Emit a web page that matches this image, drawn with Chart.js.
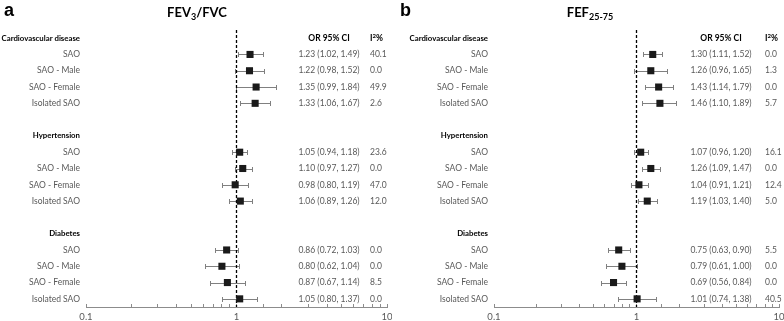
<!DOCTYPE html>
<html>
<head>
<meta charset="utf-8">
<script src="https://cdn.jsdelivr.net/npm/chart.js@4.4.0/dist/chart.umd.min.js"></script>
<style>
  body { margin: 0; background: #fff; }
  .panel { position: absolute; top: 0; width: 392px; height: 321px; }
  #panelA { left: 0; }
  #panelB { left: 392px; }
</style>
</head>
<body>
<div class="panel" id="panelA"><canvas id="chartA" width="392" height="321"></canvas></div>
<div class="panel" id="panelB"><canvas id="chartB" width="392" height="321"></canvas></div>
<script>
// rows of the forest plot, top to bottom
const rowLabels = [
  'Cardiovascular disease', 'SAO', 'SAO - Male', 'SAO - Female', 'Isolated SAO', '',
  'Hypertension', 'SAO', 'SAO - Male', 'SAO - Female', 'Isolated SAO', '',
  'Diabetes', 'SAO', 'SAO - Male', 'SAO - Female', 'Isolated SAO'
];
const headerRows = [0, 6, 12];
const dataRows = [1, 2, 3, 4, 7, 8, 9, 10, 13, 14, 15, 16];
const xTickLabels = [0.1, 1, 10];

// panel a - FEV3/FVC
const fevOR = [1.23, 1.22, 1.35, 1.33, 1.05, 1.10, 0.98, 1.06, 0.86, 0.80, 0.87, 1.05];
const fevLo = [1.02, 0.98, 0.99, 1.06, 0.94, 0.97, 0.80, 0.89, 0.72, 0.62, 0.67, 0.80];
const fevHi = [1.49, 1.52, 1.84, 1.67, 1.18, 1.27, 1.19, 1.26, 1.03, 1.04, 1.14, 1.37];
const fevI2 = ['40.1', '0.0', '49.9', '2.6', '23.6', '0.0', '47.0', '12.0', '0.0', '0.0', '8.5', '0.0'];

// panel b - FEF25-75
const fefOR = [1.30, 1.26, 1.43, 1.46, 1.07, 1.26, 1.04, 1.19, 0.75, 0.79, 0.69, 1.01];
const fefLo = [1.11, 0.96, 1.14, 1.10, 0.96, 1.09, 0.91, 1.03, 0.63, 0.61, 0.56, 0.74];
const fefHi = [1.52, 1.65, 1.79, 1.89, 1.20, 1.47, 1.21, 1.40, 0.90, 1.00, 0.84, 1.38];
const fefI2 = ['0.0', '1.3', '0.0', '5.7', '16.1', '0.0', '12.4', '5.0', '5.5', '0.0', '0.0', '40.5'];

const FONT = 'Lato, "Open Sans", sans-serif';
const GREY_TEXT = '#595959';
const WHISKER = '#808080';

const isHeader = c => !!(c.tick && headerRows.includes(c.tick.value));

// whiskers, text columns and titles
const forestExtras = {
  id: 'forestExtras',
  beforeDatasetsDraw(chart, args, o) {
    const { ctx, scales: { x, y } } = chart;
    ctx.save();
    ctx.strokeStyle = WHISKER;
    ctx.lineWidth = 1;
    o.lo.forEach((l, i) => {
      const yy = Math.round(y.getPixelForValue(dataRows[i])) + 0.5;
      const x1 = Math.round(x.getPixelForValue(l)) + 0.5;
      const x2 = Math.round(x.getPixelForValue(o.hi[i])) + 0.5;
      ctx.beginPath();
      ctx.moveTo(x1, yy); ctx.lineTo(x2, yy);
      ctx.moveTo(x1, yy - 2.5); ctx.lineTo(x1, yy + 2.5);
      ctx.moveTo(x2, yy - 2.5); ctx.lineTo(x2, yy + 2.5);
      ctx.stroke();
    });
    ctx.restore();
  },
  afterDraw(chart, args, o) {
    const { ctx, chartArea, scales: { y } } = chart;
    const orX = chartArea.right - 58;
    const i2X = chartArea.right + o.i2Offset;
    ctx.save();
    ctx.textBaseline = 'middle';

    // column headers
    const hy = y.getPixelForValue(0);
    ctx.fillStyle = '#000';
    ctx.font = 'bold 8.5px ' + FONT;
    ctx.textAlign = 'center';
    ctx.fillText('OR 95% CI', orX, hy);
    ctx.textAlign = 'left';
    ctx.fillText('I', i2X, hy);
    let w = ctx.measureText('I').width;
    ctx.font = 'bold 6px ' + FONT;
    ctx.fillText('2', i2X + w, hy - 2);
    w += ctx.measureText('2').width;
    ctx.font = 'bold 8.5px ' + FONT;
    ctx.fillText('%', i2X + w, hy);

    // values
    ctx.font = '8.5px ' + FONT;
    ctx.fillStyle = GREY_TEXT;
    o.or.forEach((v, i) => {
      const yy = y.getPixelForValue(dataRows[i]);
      ctx.textAlign = 'center';
      ctx.fillText(`${v.toFixed(2)} (${o.lo[i].toFixed(2)}, ${o.hi[i].toFixed(2)})`, orX, yy);
      ctx.textAlign = 'left';
      ctx.fillText(o.i2[i], i2X, yy);
    });

    // panel letter
    ctx.fillStyle = '#000';
    ctx.textBaseline = 'alphabetic';
    ctx.textAlign = 'left';
    ctx.font = 'bold 18px "Liberation Sans", Arial, sans-serif';
    ctx.fillText(o.letter, o.letterX, 16);

    // title with subscript
    ctx.font = 'bold 13px ' + FONT;
    const wMain = ctx.measureText(o.title[0]).width;
    const wRest = ctx.measureText(o.title[2]).width;
    ctx.font = 'bold 9px ' + FONT;
    const wSub = ctx.measureText(o.title[1]).width;
    let tx = o.titleX - (wMain + wSub + wRest) / 2;
    ctx.font = 'bold 13px ' + FONT;
    ctx.fillText(o.title[0], tx, 17);
    tx += wMain;
    ctx.font = 'bold 9px ' + FONT;
    ctx.fillText(o.title[1], tx, 20);
    tx += wSub;
    ctx.font = 'bold 13px ' + FONT;
    ctx.fillText(o.title[2], tx, 17);
    ctx.restore();
  }
};

function makeForest(canvasId, or, lo, hi, i2, yWidth, extras) {
  return new Chart(document.getElementById(canvasId), {
    type: 'scatter',
    data: {
      datasets: [
        {
          data: dataRows.map((r, i) => ({ x: or[i], y: r })),
          pointStyle: 'rect',
          pointRadius: 5,
          backgroundColor: '#1a1a1a',
          borderColor: '#1a1a1a',
          borderWidth: 0,
          order: 0
        },
        {
          // null line at OR = 1
          data: [{ x: 1, y: -0.5 }, { x: 1, y: 16.5 }],
          showLine: true,
          borderColor: '#000',
          borderWidth: 1.3,
          borderDash: [3, 2],
          pointRadius: 0,
          order: 1
        }
      ]
    },
    options: {
      responsive: false,
      animation: false,
      layout: { padding: { top: 30, right: 5, left: 0, bottom: 0 } },
      plugins: {
        legend: { display: false },
        tooltip: { enabled: false },
        forestExtras: Object.assign({ or, lo, hi, i2 }, extras)
      },
      scales: {
        x: {
          type: 'logarithmic',
          position: 'bottom',
          min: 0.1,
          max: 10,
          border: { color: '#8c8c8c', width: 1 },
          grid: { drawOnChartArea: false, drawTicks: true, tickLength: -3, color: '#8c8c8c' },
          ticks: {
            autoSkip: false,
            maxRotation: 0,
            padding: 7,
            color: GREY_TEXT,
            font: { family: FONT, size: 9.5 },
            callback: v => xTickLabels.some(t => Math.abs(t - v) < 1e-9) ? String(v) : ''
          },
          afterFit: s => { s.height = 14; s.paddingLeft = 0; s.paddingRight = 0; }
        },
        y: {
          type: 'linear',
          reverse: true,
          min: -0.5,
          max: 16.5,
          afterBuildTicks: s => { s.ticks = rowLabels.map((_, i) => ({ value: i })); },
          grid: { display: false, drawTicks: false },
          border: { display: false },
          ticks: {
            autoSkip: false,
            padding: 6,
            callback: v => rowLabels[v],
            color: c => isHeader(c) ? '#000' : GREY_TEXT,
            font: c => isHeader(c)
              ? { family: FONT, size: 7.8, weight: 'bold' }
              : { family: FONT, size: 8.5, weight: 'normal' }
          },
          afterFit: s => { s.width = yWidth; }
        }
      }
    },
    plugins: [forestExtras]
  });
}

makeForest('chartA', fevOR, fevLo, fevHi, fevI2, 86,
  { letter: 'a', letterX: 4, titleX: 197, title: ['FEV', '3', '/FVC'], i2Offset: -17 });
makeForest('chartB', fefOR, fefLo, fefHi, fefI2, 102,
  { letter: 'b', letterX: 8, titleX: 198, title: ['FEF', '25-75', ''], i2Offset: -14 });
</script>
</body>
</html>
